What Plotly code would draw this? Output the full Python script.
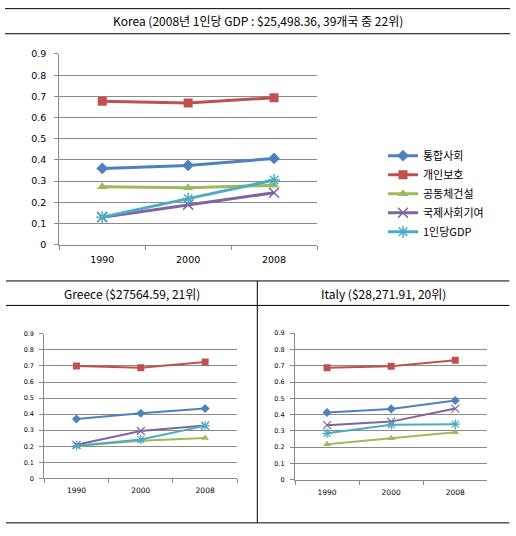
import plotly.graph_objects as go

years = ["1990", "2000", "2008"]
series_names = ["통합사회", "개인보호", "공동체건설", "국제사회기여", "1인당GDP"]

korea_tonghap = [0.360, 0.374, 0.407]
korea_gaein = [0.677, 0.669, 0.694]
korea_gongdong = [0.273, 0.269, 0.280]
korea_gukje = [0.130, 0.189, 0.245]
korea_gdp = [0.130, 0.217, 0.305]

greece_tonghap = [0.370, 0.406, 0.435]
greece_gaein = [0.699, 0.689, 0.724]
greece_gongdong = [0.201, 0.234, 0.251]
greece_gukje = [0.209, 0.295, 0.329]
greece_gdp = [0.203, 0.242, 0.327]

italy_tonghap = [0.413, 0.435, 0.487]
italy_gaein = [0.687, 0.697, 0.733]
italy_gongdong = [0.218, 0.255, 0.291]
italy_gukje = [0.335, 0.357, 0.437]
italy_gdp = [0.285, 0.337, 0.341]

y_ticks = [0, 0.1, 0.2, 0.3, 0.4, 0.5, 0.6, 0.7, 0.8, 0.9]
y_ticktext = ["0", "0.1", "0.2", "0.3", "0.4", "0.5", "0.6", "0.7", "0.8", "0.9"]

title_korea = "Korea (2008년 1인당 GDP : $25,498.36, 39개국 중 22위)"
title_greece = "Greece ($27564.59, 21위)"
title_italy = "Italy ($28,271.91, 20위)"

colors = ["#4F81BD", "#C0504D", "#9BBB59", "#8064A2", "#4BACC6"]
symbols = ["diamond", "square", "triangle-up", "x-thin", "asterisk"]

W, H = 516, 536


def px_x(p):
    return p / W


def px_y(p):
    return 1 - p / H


fig = go.Figure()

groups = [
    ("", [korea_tonghap, korea_gaein, korea_gongdong, korea_gukje, korea_gdp], 3, 9, True),
    ("2", [greece_tonghap, greece_gaein, greece_gongdong, greece_gukje, greece_gdp], 2, 7, False),
    ("3", [italy_tonghap, italy_gaein, italy_gongdong, italy_gukje, italy_gdp], 2, 7, False),
]

for suffix, data, lw, ms, show in groups:
    for i, vals in enumerate(data):
        sym = symbols[i]
        marker = dict(symbol=sym, size=ms, color=colors[i])
        if sym in ("x-thin", "asterisk"):
            marker["line"] = dict(width=1.5 if lw == 3 else 1.2, color=colors[i])
            marker["size"] = ms + 1
        fig.add_trace(go.Scatter(
            x=years, y=vals, mode="lines+markers", name=series_names[i],
            line=dict(color=colors[i], width=lw), marker=marker,
            showlegend=show, xaxis="x" + suffix, yaxis="y" + suffix,
        ))

grid = "#8a8a8a"
font_num = "DejaVu Sans"


def xax(domain, anchor, size, standoff):
    return dict(domain=domain, anchor=anchor, type="category", tickson="boundaries",
                ticks="outside", ticklen=4, tickcolor=grid, showgrid=False,
                showline=True, linecolor=grid, linewidth=1, range=[-0.5, 2.5],
                tickfont=dict(family=font_num, size=size, color="#000"),
                ticklabelstandoff=standoff, fixedrange=True)


def yax(domain, anchor, size, standoff):
    return dict(domain=domain, anchor=anchor, range=[0, 0.9], tickvals=y_ticks,
                ticktext=y_ticktext, ticks="outside", ticklen=4, tickcolor=grid,
                showgrid=True, gridcolor=grid, gridwidth=1, zeroline=False,
                showline=True, linecolor=grid, linewidth=1,
                tickfont=dict(family=font_num, size=size, color="#000"),
                ticklabelstandoff=standoff, fixedrange=True)


fig.update_layout(
    width=W, height=H, margin=dict(l=0, r=0, t=0, b=0),
    paper_bgcolor="white", plot_bgcolor="white",
    xaxis=xax([px_x(59.3), px_x(317)], "y", 9.5, 6),
    yaxis=yax([px_y(243.7), px_y(49)], "x", 9.5, 6),
    xaxis2=xax([px_x(44.3), px_x(237.3)], "y2", 7.5, 5),
    yaxis2=yax([px_y(482.3), px_y(334.7)], "x2", 6.5, 4),
    xaxis3=xax([px_x(295), px_x(487.3)], "y3", 7.5, 5),
    yaxis3=yax([px_y(483.7), px_y(334)], "x3", 6.5, 4),
    legend=dict(x=px_x(383), y=px_y(138), xanchor="left", yanchor="top",
                font=dict(family="Noto Sans CJK KR", size=11, color="#000"),
                bgcolor="rgba(0,0,0,0)", itemwidth=30),
    showlegend=True,
)

title_font = dict(family="Noto Sans CJK KR", size=12, color="#000")
for text, x, y in [(title_korea, 258, 15), (title_greece, 131.7, 293.3), (title_italy, 383, 293.3)]:
    fig.add_annotation(text=text, x=px_x(x), y=px_y(y), xref="paper", yref="paper",
                       showarrow=False, font=title_font, xanchor="center", yanchor="middle")

lines = [
    (5, 2.7, 510, 2.7),
    (5, 28.3, 510, 28.3),
    (6, 280.7, 509.3, 280.7),
    (6, 305.7, 509.3, 305.7),
    (6, 527.7, 509.3, 527.7),
    (257.3, 280.7, 257.3, 527.7),
]
for x0, y0, x1, y1 in lines:
    fig.add_shape(type="line", xref="paper", yref="paper",
                  x0=px_x(x0), y0=px_y(y0), x1=px_x(x1), y1=px_y(y1),
                  line=dict(color="black", width=1))

fig.write_html("out.html", config={"displayModeBar": False},
               post_script="document.body.style.margin='0';document.body.style.overflow='hidden';")
